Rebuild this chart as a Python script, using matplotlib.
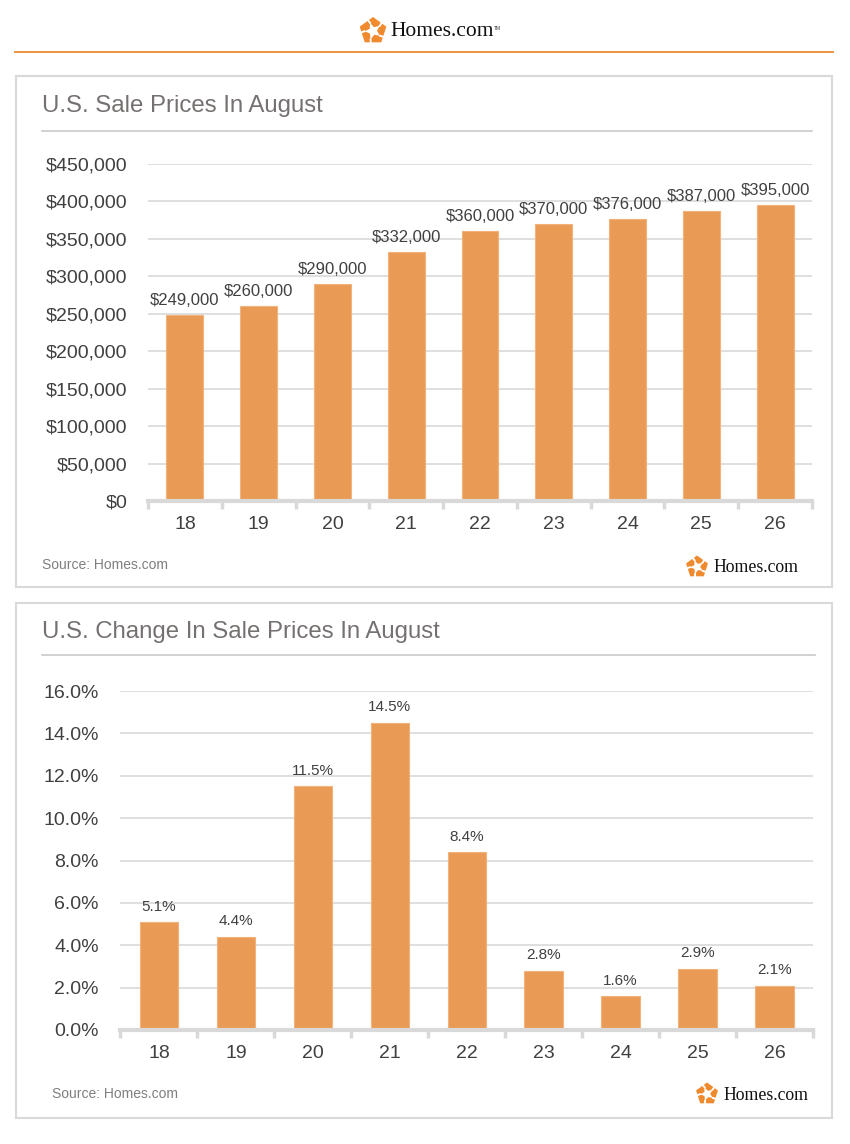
import matplotlib
matplotlib.use("Agg")
import matplotlib.pyplot as plt
from matplotlib.patches import Rectangle, Polygon
from matplotlib.lines import Line2D
from matplotlib import font_manager
import numpy as np

years = ["18", "19", "20", "21", "22", "23", "24", "25", "26"]
prices = [249000, 260000, 290000, 332000, 360000, 370000, 376000, 387000, 395000]
changes = [5.1, 4.4, 11.5, 14.5, 8.4, 2.8, 1.6, 2.9, 2.1]
price_ticks = [0, 50000, 100000, 150000, 200000, 250000, 300000, 350000, 400000, 450000]
change_ticks = [0, 2, 4, 6, 8, 10, 12, 14, 16]

names = {f.name for f in font_manager.fontManager.ttflist}
SANS = "Liberation Sans" if "Liberation Sans" in names else "DejaVu Sans"
NARROW = "Liberation Sans Narrow" if "Liberation Sans Narrow" in names else SANS
SERIF = "Liberation Serif" if "Liberation Serif" in names else "DejaVu Serif"
plt.rcParams["font.family"] = [SANS, "DejaVu Sans"]

W, H = 850, 1144
BAR = "#E99B56"
EDGE = "#F2B27A"
GRID = "#D9D9D9"
TXT = "#404040"
TITLE = "#767171"

fig = plt.figure(figsize=(W / 100, H / 100), dpi=100)
fig.patch.set_facecolor("white")

def rect(x0, y0, x1, y1):
    return [x0 / W, 1 - y1 / H, (x1 - x0) / W, (y1 - y0) / H]

ov = fig.add_axes([0, 0, 1, 1], zorder=0)
ov.set_xlim(0, W)
ov.set_ylim(H, 0)
ov.axis("off")

def logo(cx, cy, r, text_x, fs):
    ang = np.deg2rad(90 + np.arange(5) * 72)
    pts = np.c_[cx + r * np.cos(ang), cy - r * np.sin(ang)]
    ov.add_patch(Polygon(pts, closed=True, fc="#EF8A2E", ec="none", zorder=5))
    rot = 20
    star = []
    for i in range(10):
        a = np.deg2rad(90 + rot + i * 36)
        rr = r * 0.62 if i % 2 == 0 else r * 0.28
        star.append((cx + rr * np.cos(a), cy - rr * np.sin(a)))
    ov.add_patch(Polygon(star, closed=True, fc="white", ec="none", zorder=6))
    for i in range(5):
        a = np.deg2rad(90 + rot + i * 72)
        sx, sy = cx + r * 0.62 * np.cos(a), cy - r * 0.62 * np.sin(a)
        b = a + np.deg2rad(18)
        ov.add_line(Line2D([sx, sx + r * 0.7 * np.cos(b)], [sy, sy - r * 0.7 * np.sin(b)],
                           color="white", lw=1.4, zorder=7))
    ov.text(text_x, cy + 1, "Homes.com", fontsize=fs, family=SERIF, color="#111111",
            ha="left", va="center", zorder=8)

# header
logo(373, 31, 14, 390, 15.5)
ov.text(494, 28, "TM", fontsize=3.5, color="#333333", ha="left", va="center")
ov.add_line(Line2D([15, 833], [52, 52], color="#EF8A2E", lw=1.3))

for (x0, y0, x1, y1) in [(16, 76, 832, 587), (16, 603, 832, 1118)]:
    ov.add_patch(Rectangle((x0, y0), x1 - x0, y1 - y0, fc="white", ec="#D9D9D9", lw=1.5))

ov.text(42, 106, "U.S. Sale Prices In August", fontsize=17.3, color=TITLE, ha="left", va="center")
ov.add_line(Line2D([42, 812], [131, 131], color="#C9C9C9", lw=1.2))
ov.text(42, 565, "Source: Homes.com", fontsize=10, color="#7F7F7F", ha="left", va="center")
logo(697, 567, 11.5, 713, 12.8)

ov.text(42, 632, "U.S. Change In Sale Prices In August", fontsize=17.3, color=TITLE, ha="left", va="center")
ov.add_line(Line2D([42, 815], [655, 655], color="#C9C9C9", lw=1.2))
ov.text(52, 1094, "Source: Homes.com", fontsize=10, color="#7F7F7F", ha="left", va="center")
logo(707, 1094, 11.5, 723, 12.8)


def style(ax, ticks, fmt, ylim, pad):
    x = np.arange(len(years))
    ax.set_xlim(-0.5, len(years) - 0.5)
    ax.set_ylim(*ylim)
    ax.set_yticks(ticks)
    ax.set_yticklabels([fmt(t) for t in ticks], fontsize=14, color=TXT)
    ax.set_xticks(x)
    ax.set_xticklabels(years, fontsize=14, color=TXT, family=NARROW)
    ax.set_xticks(np.arange(len(years) + 1) - 0.5, minor=True)
    ax.tick_params(axis="x", which="major", length=0, pad=11)
    ax.tick_params(axis="x", which="minor", length=6, width=2.5, color=GRID)
    ax.tick_params(axis="y", length=0, pad=pad)
    ax.grid(axis="y", color=GRID, lw=1.2)
    ax.set_axisbelow(True)
    for s in ["top", "right", "left"]:
        ax.spines[s].set_visible(False)
    ax.spines["bottom"].set_color(GRID)
    ax.spines["bottom"].set_linewidth(3)
    ax.spines["bottom"].set_zorder(4)
    ax.patch.set_alpha(0)


ax1 = fig.add_axes(rect(148, 164, 812, 501), zorder=2)
style(ax1, price_ticks, lambda t: "${:,.0f}".format(t), (0, 450000), 15)
ax1.bar(np.arange(len(years)), prices, width=0.5, color=BAR, edgecolor=EDGE, lw=0.8, zorder=3)
for i, v in enumerate(prices):
    ax1.annotate("${:,.0f}".format(v), (i, v), xytext=(0, 5), textcoords="offset points",
                 ha="center", va="bottom", fontsize=12, color=TXT)

ax2 = fig.add_axes(rect(120.5, 691, 813, 1030), zorder=2)
style(ax2, change_ticks, lambda t: "{:.1f}%".format(t), (0, 16), 15.5)
ax2.bar(np.arange(len(years)), changes, width=0.5, color=BAR, edgecolor=EDGE, lw=0.8, zorder=3)
for i, v in enumerate(changes):
    ax2.annotate("{:.1f}%".format(v), (i, v), xytext=(0, 6), textcoords="offset points",
                 ha="center", va="bottom", fontsize=11, color=TXT)

fig.savefig("out.png", dpi=100, facecolor="white")
